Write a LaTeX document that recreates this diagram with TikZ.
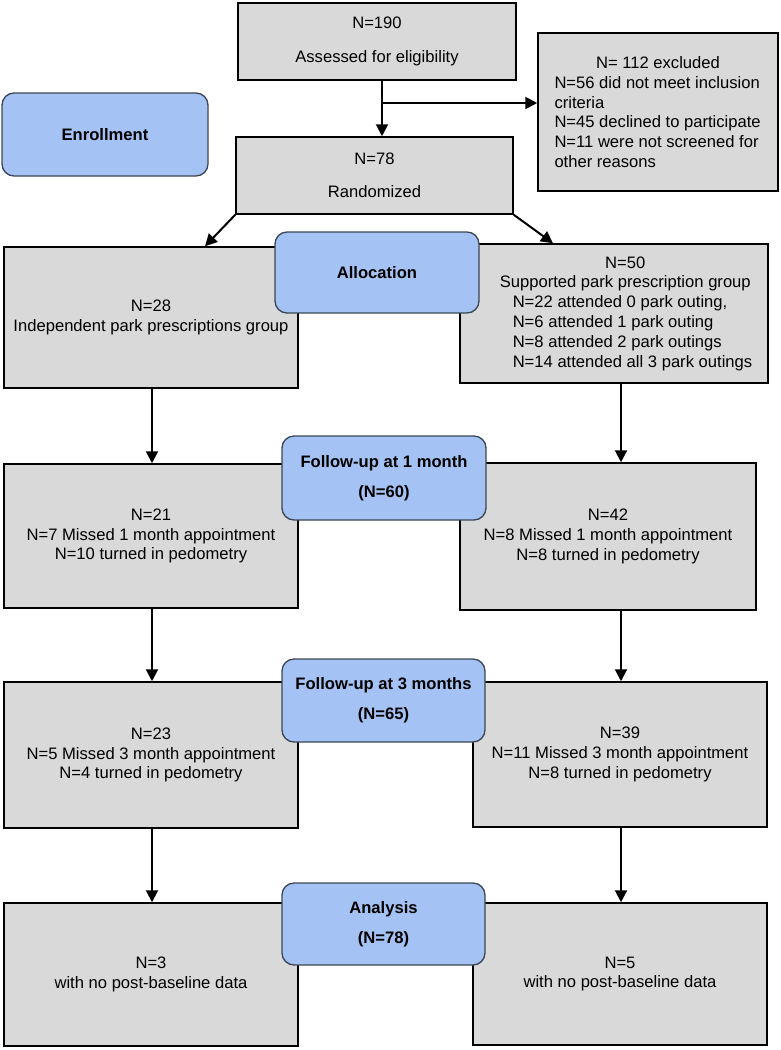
\documentclass[tikz,border=0pt]{standalone}
\usepackage{fontspec}
\setmainfont{Liberation Sans}
\usetikzlibrary{arrows.meta, positioning}
\definecolor{boxgray}{RGB}{217, 217, 217}
\definecolor{stageblue}{RGB}{164, 194, 244}
\definecolor{stageedge}{RGB}{60, 70, 85}

\begin{document}
\begin{tikzpicture}[x=1pt, y=-1pt,
        font=\fontsize{16.6}{19.8}\selectfont,
        gbox/.style={draw=black, line width=1.5pt, fill=boxgray, inner sep=0pt, align=center},
        bbox/.style={draw=stageedge, line width=1.3pt, fill=stageblue, rounded corners=12pt, inner sep=0pt, align=center, font=\fontsize{16.6}{19.8}\selectfont\bfseries},
        arr/.style={line width=2pt, -{Triangle[width=12pt, length=12pt]}}]
            \useasboundingbox (0,0) rectangle (781,1050);

            % enrollment
            \node[gbox, minimum width=278, minimum height=77] (assess) at (377,41.5) {N=190\\[14pt]Assessed for eligibility};
            \node[gbox, minimum width=240, minimum height=158, align=left] (excl) at (658,112) {\makebox[207pt]{N= 112 excluded}\\N=56 did not meet inclusion\\criteria\\N=45 declined to participate\\N=11 were not screened for\\other reasons};
            \node[gbox, minimum width=277, minimum height=77] (rand) at (374.5,175.5) {N=78\\[13pt]Randomized};

            % allocation
            \node[gbox, minimum width=294, minimum height=141] (indep) at (151,317.5) {N=28\\Independent park prescriptions group};
            \node[gbox, minimum width=308, minimum height=139, align=left] (supp) at (614,313.5) {\hspace*{24pt}\makebox[251pt]{N=50}\\
                \hspace*{24pt}Supported park prescription group\\
                \hspace*{37pt}N=22 attended 0 park outing,\\
                \hspace*{37pt}N=6 attended 1 park outing\\
                \hspace*{37pt}N=8 attended 2 park outings\\
                \hspace*{37pt}N=14 attended all 3 park outings};

            % follow-up
            \node[gbox, minimum width=294, minimum height=144] (oneL) at (151,536) {N=21\\N=7 Missed 1 month appointment\\N=10 turned in pedometry};
            \node[gbox, minimum width=296, minimum height=147] (oneR) at (608,536.5) {N=42\\N=8 Missed 1 month appointment\\N=8 turned in pedometry};
            \node[gbox, minimum width=294, minimum height=146] (threeL) at (151,755) {N=23\\N=5 Missed 3 month appointment\\N=4 turned in pedometry};
            \node[gbox, minimum width=294, minimum height=145] (threeR) at (620,754.5) {N=39\\N=11 Missed 3 month appointment\\N=8 turned in pedometry};

            % analysis
            \node[gbox, minimum width=294, minimum height=143] (anaL) at (151,974.5) {N=3\\with no post-baseline data};
            \node[gbox, minimum width=294, minimum height=142] (anaR) at (620,974) {N=5\\with no post-baseline data};

            \coordinate (colM) at (382,0);
            \coordinate (colL) at (152,0);
            \coordinate (colR) at (621,0);
            \coordinate (split) at (382,103);
            \coordinate (hitL) at (205,0);
            \coordinate (hitR) at (553,0);

            \draw[arr] (assess.south -| colM) -- (rand.north -| colM);
            \draw[arr] (split) -- (split -| excl.west);
            \draw[arr] (rand.south west) -- (indep.north -| hitL);
            \draw[arr] (rand.south east) -- (supp.north -| hitR);

            \draw[arr] (indep.south -| colL) -- (oneL.north -| colL);
            \draw[arr] (oneL.south -| colL) -- (threeL.north -| colL);
            \draw[arr] (threeL.south -| colL) -- (anaL.north -| colL);
            \draw[arr] (supp.south -| colR) -- (oneR.north -| colR);
            \draw[arr] (oneR.south -| colR) -- (threeR.north -| colR);
            \draw[arr] (threeR.south -| colR) -- (anaR.north -| colR);

            % stage labels
            \node[bbox, minimum width=206, minimum height=83] (enrol) at (105,134.5) {Enrollment};
            \node[bbox, minimum width=204, minimum height=81] (alloc) at (377,272.5) {Allocation};
            \node[bbox, minimum width=204, minimum height=84] (fuone) at (384,478) {Follow-up at 1 month\\[10pt](N=60)};
            \node[bbox, minimum width=203, minimum height=83] (futhree) at (383.5,700.5) {Follow-up at 3 months\\[10pt](N=65)};
            \node[bbox, minimum width=203, minimum height=82] (analysis) at (383.5,924) {Analysis\\[10pt](N=78)};
        \end{tikzpicture}
\end{document}
